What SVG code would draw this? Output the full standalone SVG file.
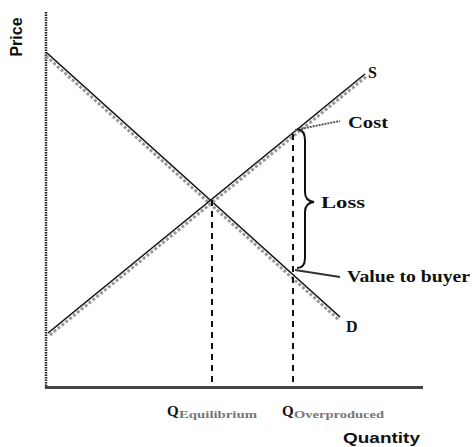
<svg xmlns="http://www.w3.org/2000/svg" width="476" height="447" viewBox="0 0 476 447">
<style>
.shadow{stroke:#9a9a9a;stroke-width:3;fill:none;stroke-dasharray:3 2}
.ln{stroke:#111;stroke-width:1.6;fill:none}
.dash{stroke:#111;stroke-width:2;fill:none;stroke-dasharray:6 5}
.lbl{font-family:"Liberation Serif",serif;font-weight:bold;fill:#111}
.ax{font-family:"Liberation Sans",sans-serif;font-weight:bold;fill:#111}
.sub{font-family:"Liberation Serif",serif;font-weight:bold;fill:#777;font-size:10px}
</style>
<rect width="476" height="447" fill="#fff"/>
<g id="axes">
<line x1="46" y1="12" x2="46" y2="388" stroke="#222" stroke-width="2.5" stroke-dasharray="1.5 1"/>
<line x1="45" y1="387.5" x2="423" y2="387.5" stroke="#444" stroke-width="3"/>
<text class="ax" font-size="16" transform="translate(22,37) rotate(-90)" text-anchor="middle">Price</text>
<text class="ax" x="343" y="443" font-size="15" textLength="77" lengthAdjust="spacingAndGlyphs">Quantity</text>
</g>
<g id="connectors">
<line class="shadow" x1="46" y1="56" x2="339" y2="320"/>
<line class="ln" x1="47" y1="53" x2="340" y2="317"/>
<line class="shadow" x1="50" y1="335" x2="367" y2="76"/>
<line class="ln" x1="48" y1="333" x2="365" y2="74"/>
<line class="dash" x1="212" y1="200" x2="212" y2="386"/>
<line class="dash" x1="293" y1="134" x2="293" y2="386"/>
<line x1="295" y1="130" x2="340" y2="121" stroke="#555" stroke-width="2" stroke-dasharray="2 1"/>
<line x1="295" y1="270" x2="340" y2="277" stroke="#333" stroke-width="2"/>
<path d="M297,129 Q305,130 305,140 L305,192 Q305,201 314,202 Q305,203 305,212 L305,258 Q305,268 297,268" stroke="#111" stroke-width="2" fill="none"/>
</g>
<g id="labels">
<text class="lbl" x="368" y="78" font-size="16">S</text>
<text class="lbl" x="346" y="332" font-size="16">D</text>
<text class="lbl" x="348" y="128" font-size="16" textLength="40" lengthAdjust="spacingAndGlyphs">Cost</text>
<text class="lbl" x="321" y="208" font-size="16" textLength="44" lengthAdjust="spacingAndGlyphs">Loss</text>
<text class="lbl" x="347" y="282" font-size="16" textLength="123" lengthAdjust="spacingAndGlyphs">Value to buyer</text>
<text class="lbl" x="167" y="416" font-size="15">Q</text>
<text class="sub" x="179" y="418" textLength="78" lengthAdjust="spacingAndGlyphs">Equilibrium</text>
<text class="lbl" x="282" y="416" font-size="15">Q</text>
<text class="sub" x="294" y="418" textLength="90" lengthAdjust="spacingAndGlyphs">Overproduced</text>
</g>
</svg>
